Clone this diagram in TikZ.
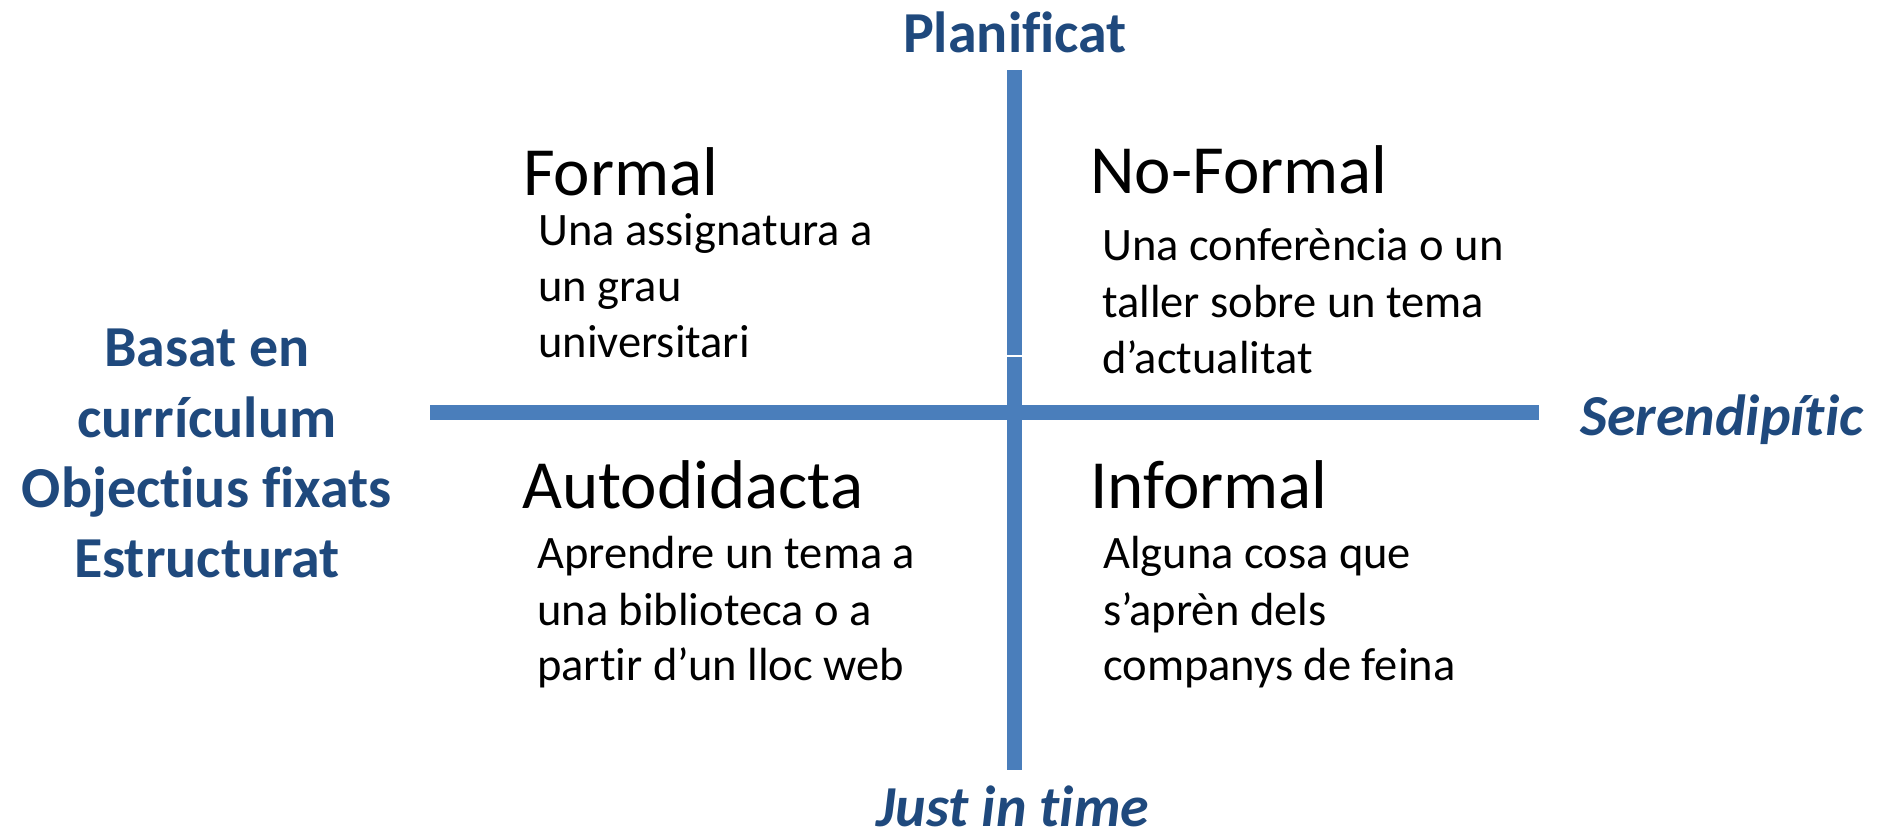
\documentclass[tikz,border=0pt]{standalone}
\usepackage{fontspec}
\setmainfont{Carlito}[Ligatures={NoCommon}]
\definecolor{barblue}{HTML}{4A7EBB}
\definecolor{labblue}{HTML}{1F497D}
\begin{document}
\begin{tikzpicture}[x=1pt,y=-1pt,
  title/.style={anchor=base west,inner sep=0pt,font=\fontsize{69}{80}\selectfont},
  body/.style={anchor=base west,inner sep=0pt,font=\fontsize{46.5}{56}\selectfont},
  axislab/.style={inner sep=0pt,text=labblue,font=\fontsize{58}{70}\selectfont\bfseries},
  bar/.style={fill=barblue,draw=none}]
\useasboundingbox (0,0) rectangle (1880,835);
% axes
\fill[bar] (1007,70) rectangle (1022,355);
\fill[bar] (1007,356.5) rectangle (1022,770);
\fill[bar] (430,405) rectangle (1539,420);
% axis labels
\node[axislab,anchor=base] (plan) at (1015,52) {Planificat};
\node[axislab,anchor=base] (jit) at (1013,826) {\itshape Just in time};
\node[axislab,anchor=base west] (ser) at (1580,435) {\itshape Serendipític};
\node[axislab,anchor=base] (l1) at (207,366) {Basat en};
\node[axislab,anchor=base] (l2) at (207,437) {currículum};
\node[axislab,anchor=base] (l3) at (207,507) {Objectius fixats};
\node[axislab,anchor=base] (l4) at (207,577) {Estructurat};
% quadrant titles
\node[title] (formal) at (523,195) {Formal};
\node[title] (noformal) at (1090,193) {No-Formal};
\node[title] (auto) at (522,508) {Autodidacta};
\node[title] (informal) at (1090,508) {Informal};
% bodies
\node[body] (f1) at (538,245) {Una assignatura a};
\node[body] (f2) at (538,301) {un grau};
\node[body] (f3) at (538,357) {universitari};
\node[body] (n1) at (1102,260) {Una conferència o un};
\node[body] (n2) at (1102,317) {taller sobre un tema};
\node[body] (n3) at (1102,373) {d’actualitat};
\node[body] (a1) at (537,568) {Aprendre un tema a};
\node[body] (a2) at (537,625) {una biblioteca o a};
\node[body] (a3) at (537,680) {partir d’un lloc web};
\node[body] (i1) at (1103,568) {Alguna cosa que};
\node[body] (i2) at (1103,625) {s’aprèn dels};
\node[body] (i3) at (1103,680) {companys de feina};
\end{tikzpicture}
\end{document}
